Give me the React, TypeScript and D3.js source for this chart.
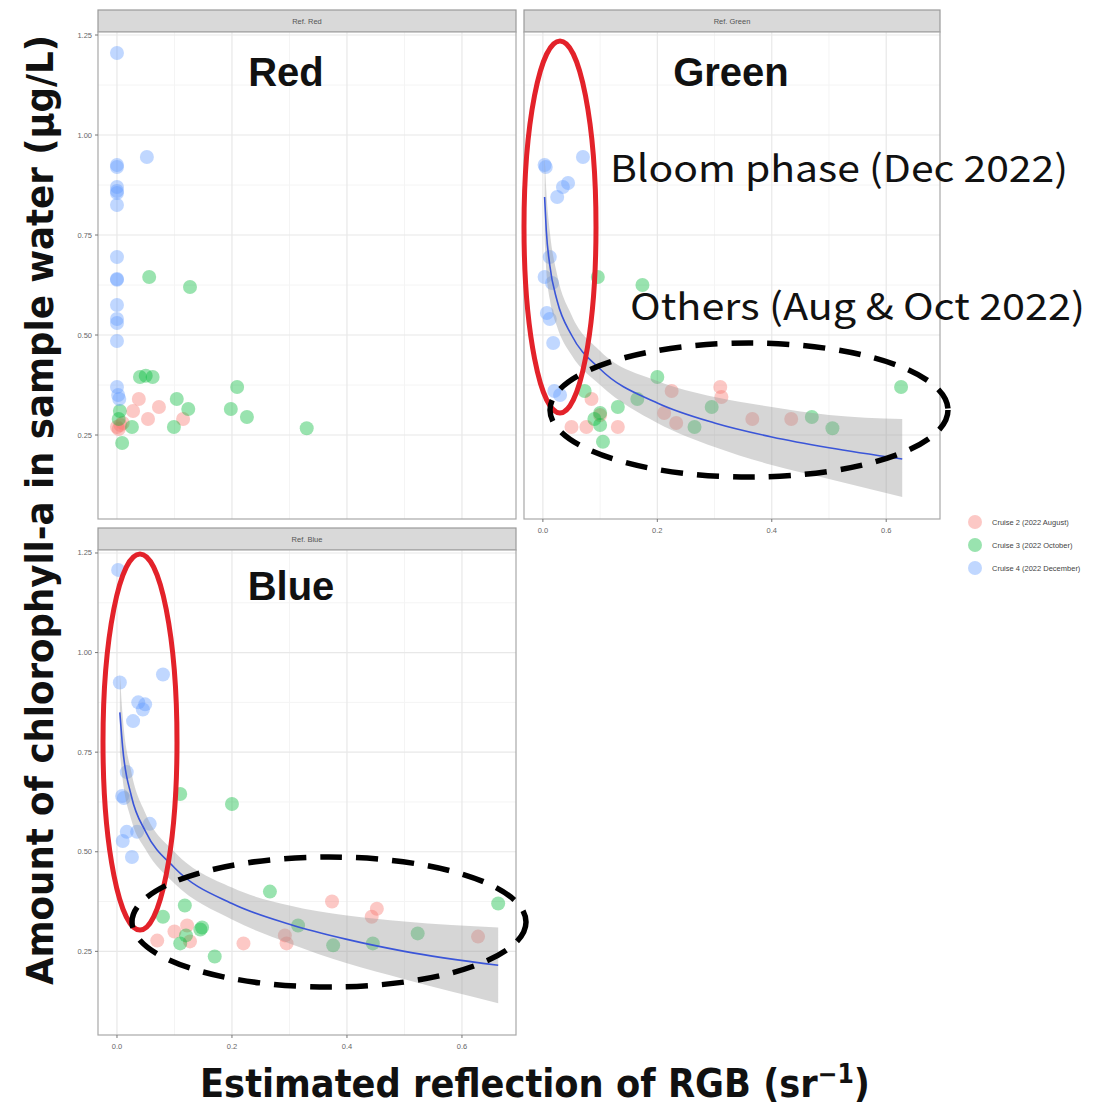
import * as d3 from 'd3'

// Cruise colours (ggplot default hue palette)
const cruiseNames = ['Cruise 2 (2022 August)', 'Cruise 3 (2022 October)', 'Cruise 4 (2022 December)']
const cruiseColors = ['#F8766D', '#00BA38', '#619CFF']

const xTicks = [0, 0.2, 0.4, 0.6]
const xMinor = [0.1, 0.3, 0.5]
const yTicks = [0.25, 0.5, 0.75, 1.0, 1.25]
const yMinor = [0.375, 0.625, 0.875, 1.125]

// [reflection, chl-a]
const redAug = [[0.038, 0.34], [0.073, 0.32], [0.054, 0.29], [0.115, 0.29], [0.0, 0.27], [0.003, 0.265], [0.006, 0.275], [0.028, 0.31], [0.01, 0.28]]
const redOct = [[0.056, 0.645], [0.127, 0.62], [0.04, 0.395], [0.05, 0.398], [0.062, 0.395], [0.104, 0.34], [0.124, 0.315], [0.209, 0.37], [0.198, 0.315], [0.226, 0.295], [0.33, 0.267], [0.099, 0.27], [0.026, 0.27], [0.009, 0.23], [0.005, 0.31], [0.003, 0.29]]
const redDec = [[0.0, 1.205], [0.0, 0.925], [0.0, 0.92], [0.0, 0.87], [0.0, 0.86], [0.0, 0.855], [0.0, 0.825], [0.052, 0.945], [0.0, 0.695], [0.0, 0.64], [0.0, 0.638], [0.0, 0.575], [0.0, 0.54], [0.0, 0.53], [0.0, 0.485], [0.0, 0.37], [0.002, 0.35], [0.004, 0.34]]

const greenAug = [[0.31, 0.37], [0.312, 0.345], [0.225, 0.36], [0.212, 0.305], [0.233, 0.28], [0.366, 0.29], [0.434, 0.29], [0.05, 0.27], [0.076, 0.27], [0.131, 0.27], [0.085, 0.34], [0.1, 0.3]]
const greenOct = [[0.096, 0.645], [0.174, 0.625], [0.2, 0.395], [0.165, 0.34], [0.131, 0.32], [0.1, 0.305], [0.1, 0.275], [0.105, 0.233], [0.073, 0.36], [0.265, 0.27], [0.295, 0.32], [0.47, 0.295], [0.506, 0.267], [0.626, 0.37], [0.09, 0.29]]
const greenDec = [[0.003, 0.925], [0.005, 0.92], [0.07, 0.945], [0.035, 0.87], [0.044, 0.88], [0.025, 0.845], [0.012, 0.695], [0.003, 0.645], [0.016, 0.63], [0.012, 0.54], [0.018, 0.48], [0.007, 0.555], [0.02, 0.36], [0.03, 0.35]]

const blueAug = [[0.374, 0.375], [0.452, 0.357], [0.443, 0.337], [0.292, 0.29], [0.295, 0.27], [0.22, 0.27], [0.628, 0.287], [0.07, 0.277], [0.122, 0.315], [0.127, 0.275], [0.1, 0.3]]
const blueOct = [[0.11, 0.645], [0.2, 0.62], [0.266, 0.4], [0.118, 0.365], [0.08, 0.337], [0.148, 0.31], [0.145, 0.305], [0.11, 0.27], [0.17, 0.237], [0.376, 0.265], [0.445, 0.27], [0.523, 0.295], [0.663, 0.37], [0.315, 0.315], [0.12, 0.29]]
const blueDec = [[0.002, 1.2075], [0.005, 0.925], [0.08, 0.945], [0.037, 0.875], [0.049, 0.87], [0.045, 0.857], [0.028, 0.828], [0.017, 0.7], [0.009, 0.64], [0.057, 0.57], [0.017, 0.55], [0.01, 0.527], [0.026, 0.487], [0.035, 0.55], [0.012, 0.635]]

// fitted curve + confidence band
const greenFitX = [0.003, 0.006, 0.012, 0.025, 0.05, 0.1, 0.2, 0.3, 0.4, 0.5, 0.628]
const greenFitY = [0.845, 0.76, 0.675, 0.585, 0.5, 0.415, 0.33, 0.28, 0.245, 0.218, 0.19]
const greenFitHi = [0.95, 0.86, 0.76, 0.65, 0.55, 0.46, 0.385, 0.345, 0.32, 0.3, 0.29]
const greenFitLo = [0.74, 0.66, 0.59, 0.52, 0.45, 0.375, 0.28, 0.22, 0.175, 0.14, 0.095]

const blueFitX = [0.005, 0.01, 0.025, 0.05, 0.1, 0.2, 0.3, 0.4, 0.5, 0.663]
const blueFitY = [0.85, 0.76, 0.64, 0.55, 0.46, 0.37, 0.318, 0.28, 0.25, 0.215]
const blueFitHi = [0.95, 0.84, 0.7, 0.595, 0.5, 0.41, 0.365, 0.34, 0.325, 0.31]
const blueFitLo = [0.75, 0.68, 0.58, 0.505, 0.42, 0.33, 0.27, 0.22, 0.18, 0.12]

const panels = [
  { label: 'Ref. Red', title: 'Red', titleX: 286, titleY: 86, col: 0, row: 0, series: [redAug, redOct, redDec], fit: null, xAxis: false, yAxis: true },
  { label: 'Ref. Green', title: 'Green', titleX: 731, titleY: 86, col: 1, row: 0, series: [greenAug, greenOct, greenDec],
    fit: { x: greenFitX, y: greenFitY, hi: greenFitHi, lo: greenFitLo }, xAxis: true, yAxis: false },
  { label: 'Ref. Blue', title: 'Blue', titleX: 291, titleY: 600, col: 0, row: 1, series: [blueAug, blueOct, blueDec],
    fit: { x: blueFitX, y: blueFitY, hi: blueFitHi, lo: blueFitLo }, xAxis: true, yAxis: true },
]

const colX = [[98, 516], [524, 940]]
const rowY = [[32, 519], [550, 1035]]
const stripH = 22

function Panel({ p }) {
  const [x0, x1] = colX[p.col]
  const [y0, y1] = rowY[p.row]
  const xScale = d3.scaleLinear().domain([-0.033, 0.694]).range([x0, x1])
  const yScale = d3.scaleLinear().domain([0.04, 1.2575]).range([y1, y0])

  let band = null, fitLine = null
  if (p.fit) {
    const idx = d3.range(p.fit.x.length)
    band = d3.area()
      .x((i) => xScale(p.fit.x[i]))
      .y0((i) => yScale(p.fit.lo[i]))
      .y1((i) => yScale(p.fit.hi[i]))
      .curve(d3.curveMonotoneX)(idx)
    fitLine = d3.line()
      .x((i) => xScale(p.fit.x[i]))
      .y((i) => yScale(p.fit.y[i]))
      .curve(d3.curveMonotoneX)(idx)
  }

  return (
    <g>
      <rect x={x0} y={y0 - stripH} width={x1 - x0} height={stripH} fill="#d9d9d9" stroke="#9a9a9a" strokeWidth={1.2} />
      <text x={(x0 + x1) / 2} y={y0 - stripH / 2 + 3} textAnchor="middle" fontSize={7.5} fill="#555" fontFamily="Liberation Sans, sans-serif">{p.label}</text>
      <rect x={x0} y={y0} width={x1 - x0} height={y1 - y0} fill="#fff" />
      {xMinor.map((t) => <line key={'xm' + t} x1={xScale(t)} x2={xScale(t)} y1={y0} y2={y1} stroke="#f4f4f4" strokeWidth={1} />)}
      {yMinor.map((t) => <line key={'ym' + t} x1={x0} x2={x1} y1={yScale(t)} y2={yScale(t)} stroke="#f4f4f4" strokeWidth={1} />)}
      {xTicks.map((t) => <line key={'x' + t} x1={xScale(t)} x2={xScale(t)} y1={y0} y2={y1} stroke="#e8e8e8" strokeWidth={1.2} />)}
      {yTicks.map((t) => <line key={'y' + t} x1={x0} x2={x1} y1={yScale(t)} y2={yScale(t)} stroke="#e8e8e8" strokeWidth={1.2} />)}
      {p.series.map((pts, si) => pts.map((d, i) => (
        <circle key={si + '-' + i} cx={xScale(d[0])} cy={yScale(d[1])} r={7} fill={cruiseColors[si]} fillOpacity={0.4} />
      )))}
      {band && <path d={band} fill="#999" fillOpacity={0.4} />}
      {fitLine && <path d={fitLine} fill="none" stroke="#3a55d8" strokeWidth={1.6} />}
      <rect x={x0} y={y0} width={x1 - x0} height={y1 - y0} fill="none" stroke="#a8a8a8" strokeWidth={1.2} />
      {p.xAxis && xTicks.map((t) => (
        <g key={'xt' + t}>
          <line x1={xScale(t)} x2={xScale(t)} y1={y1} y2={y1 + 3} stroke="#777" />
          <text x={xScale(t)} y={y1 + 14} textAnchor="middle" fontSize={7.5} fill="#666" fontFamily="Liberation Sans, sans-serif">{t.toFixed(1)}</text>
        </g>
      ))}
      {p.yAxis && yTicks.map((t) => (
        <g key={'yt' + t}>
          <line x1={x0 - 3} x2={x0} y1={yScale(t)} y2={yScale(t)} stroke="#777" />
          <text x={x0 - 6} y={yScale(t) + 2.5} textAnchor="end" fontSize={7.5} fill="#666" fontFamily="Liberation Sans, sans-serif">{t.toFixed(2)}</text>
        </g>
      ))}
      <text x={p.titleX} y={p.titleY} textAnchor="middle" fontSize={40} fontWeight="bold" fill="#111" fontFamily="Liberation Sans, Arial, sans-serif">{p.title}</text>
    </g>
  )
}

export default function App() {
  return (
    <svg width={1115} height={1108} style={{ position: 'absolute', left: 0, top: 0, background: '#fff' }}>
      <rect width={1115} height={1108} fill="#fff" />
      {panels.map((p) => <Panel key={p.label} p={p} />)}

      {/* legend */}
      {cruiseNames.map((n, i) => (
        <g key={n}>
          <circle cx={975} cy={522 + i * 23} r={7} fill={cruiseColors[i]} fillOpacity={0.4} />
          <text x={992} y={525 + i * 23} fontSize={7.5} fill="#444" fontFamily="Liberation Sans, sans-serif">{n}</text>
        </g>
      ))}

      {/* annotations */}
      <ellipse cx={560} cy={227} rx={36} ry={186} fill="none" stroke="#e3222a" strokeWidth={5} />
      <ellipse cx={140} cy={742} rx={37} ry={188} fill="none" stroke="#e3222a" strokeWidth={5} />
      <ellipse cx={749} cy={410} rx={199} ry={67} fill="none" stroke="#000" strokeWidth={5.5} strokeDasharray="22 14" />
      <ellipse cx={329} cy={922} rx={197} ry={65} fill="none" stroke="#000" strokeWidth={5.5} strokeDasharray="22 14" />

      <text x={610} y={182} fontSize={37} fill="#111" fontFamily="Noto Sans CJK JP, Noto Sans, sans-serif" textLength={458} lengthAdjust="spacingAndGlyphs">Bloom phase (Dec 2022)</text>
      <text x={630} y={320} fontSize={37} fill="#111" fontFamily="Noto Sans CJK JP, Noto Sans, sans-serif" textLength={455} lengthAdjust="spacingAndGlyphs">Others (Aug &amp; Oct 2022)</text>

      {/* axis titles */}
      <text transform="translate(53, 985) rotate(-90)" fontSize={37} fontWeight="bold" fill="#111"
        fontFamily="Liberation Sans Narrow, DejaVu Sans Condensed, sans-serif" textLength={950} lengthAdjust="spacingAndGlyphs">
        Amount of chlorophyll-a in sample water (μg/L)
      </text>
      <text x={200} y={1097} fontSize={39} fontWeight="bold" fill="#111"
        fontFamily="Liberation Sans Narrow, DejaVu Sans Condensed, sans-serif" textLength={670} lengthAdjust="spacingAndGlyphs">
        Estimated reflection of RGB (sr<tspan fontSize={26} dy={-14}>−1</tspan><tspan dy={14}>)</tspan>
      </text>
    </svg>
  )
}
